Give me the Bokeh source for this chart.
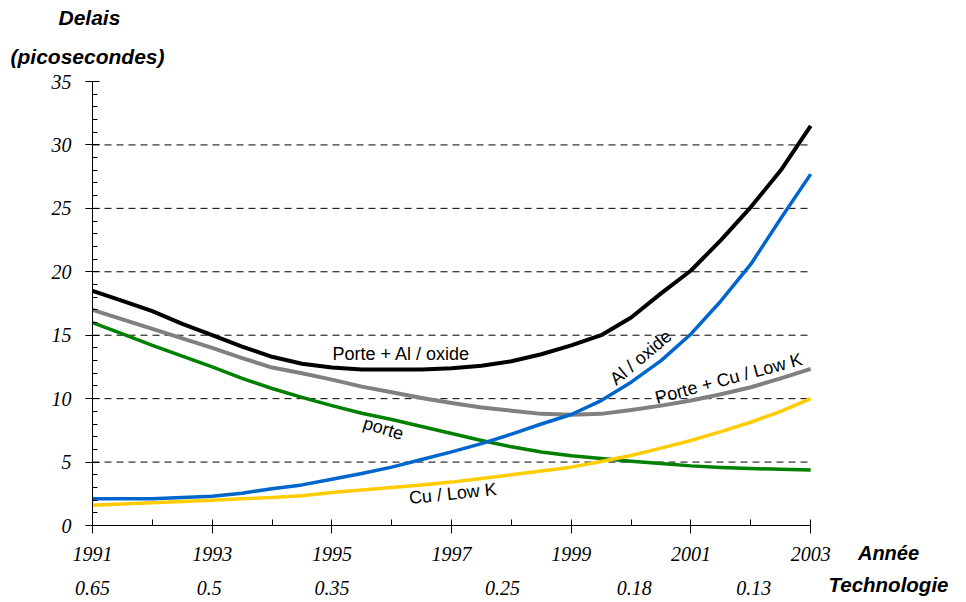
from bokeh.plotting import figure
from bokeh.models import Range1d, FixedTicker, LinearAxis, Label, Title
from bokeh.embed import file_html
from bokeh.resources import INLINE

# ---- data ----
years = [1991, 1991.5, 1992, 1992.5, 1993, 1993.5, 1994, 1994.5, 1995, 1995.5,
         1996, 1996.5, 1997, 1997.5, 1998, 1998.5, 1999, 1999.5, 2000, 2000.5,
         2001, 2001.5, 2002, 2002.5, 2003]

porte_al_oxide = [18.5, 17.7, 16.9, 15.9, 15.0, 14.1, 13.3, 12.75, 12.45, 12.3,
                  12.3, 12.3, 12.4, 12.6, 12.95, 13.5, 14.2, 15.0, 16.4, 18.3,
                  20.1, 22.5, 25.1, 28.0, 31.5]
porte_cu_lowk = [17.0, 16.25, 15.5, 14.75, 14.0, 13.2, 12.45, 12.0, 11.5, 10.95,
                 10.5, 10.05, 9.65, 9.3, 9.05, 8.8, 8.73, 8.8, 9.1, 9.45,
                 9.85, 10.35, 10.9, 11.6, 12.35]
porte = [16.0, 15.1, 14.2, 13.35, 12.5, 11.6, 10.8, 10.1, 9.45, 8.85,
         8.35, 7.8, 7.25, 6.7, 6.2, 5.8, 5.5, 5.28, 5.07, 4.88,
         4.7, 4.58, 4.49, 4.43, 4.38]
al_oxide = [2.1, 2.1, 2.1, 2.2, 2.3, 2.55, 2.9, 3.2, 3.65, 4.1,
            4.6, 5.2, 5.8, 6.45, 7.2, 8.0, 8.75, 9.85, 11.3, 13.0,
            15.1, 17.7, 20.6, 24.2, 27.7]
cu_lowk = [1.6, 1.7, 1.8, 1.9, 2.0, 2.1, 2.2, 2.35, 2.6, 2.8,
           3.0, 3.2, 3.42, 3.7, 4.0, 4.3, 4.6, 5.05, 5.52, 6.1,
           6.7, 7.4, 8.14, 9.0, 10.0]

year_ticks = [1991, 1993, 1995, 1997, 1999, 2001, 2003]
year_minor = [1992, 1994, 1996, 1998, 2000, 2002]
y_ticks = [0, 5, 10, 15, 20, 25, 30, 35]
y_minor = [v for v in range(0, 36) if v % 5 != 0]
grid_vals = [5, 10, 15, 20, 25, 30]
x_first, x_last = 1991, 2003

tech_years = [1991, 1992.95, 1995, 1997.85, 2000.05, 2002.05]
tech_labels = ["0.65", "0.5", "0.35", "0.25", "0.18", "0.13"]

SERIF = "Liberation Serif"
SANS = "Liberation Sans"

# frame 796 x 444 px (59.83 px per year); the part right of 2003 holds the axis titles
p = figure(frame_width=796, frame_height=444, output_backend="svg",
           toolbar_location=None, title=None,
           x_range=Range1d(1991, 2004.30), y_range=Range1d(0, 35),
           min_border_left=92, min_border_right=76, min_border_top=81,
           min_border_bottom=76)
p.outline_line_color = None
p.background_fill_color = "white"
p.border_fill_color = "white"
p.xgrid.visible = False
p.ygrid.visible = False

# dashed horizontal grid lines, limited to the 1991-2003 span
p.segment(x0=[x_first] * len(grid_vals), y0=grid_vals,
          x1=[x_last] * len(grid_vals), y1=grid_vals,
          line_color="black", line_width=1, line_dash="7 5")

# y axis
ya = p.yaxis[0]
ya.ticker = FixedTicker(ticks=y_ticks, minor_ticks=y_minor)
ya.axis_line_color = "black"
ya.major_tick_line_color = "black"
ya.minor_tick_line_color = "black"
ya.major_tick_in = 7
ya.major_tick_out = 7
ya.minor_tick_in = 5
ya.minor_tick_out = 0
ya.major_label_text_font = SERIF
ya.major_label_text_font_style = "italic"
ya.major_label_text_font_size = "20px"
ya.major_label_text_color = "black"
ya.major_label_standoff = 14

def style_bottom_axis(ax, title, title_size, title_standoff):
    ax.major_label_text_font = SERIF
    ax.major_label_text_font_style = "italic"
    ax.major_label_text_font_size = "20px"
    ax.major_label_text_color = "black"
    ax.axis_label = title
    ax.axis_label_align = "end"
    ax.axis_label_standoff = title_standoff
    ax.axis_label_text_font = SANS
    ax.axis_label_text_font_style = "bold italic"
    ax.axis_label_text_font_size = title_size
    ax.axis_label_text_color = "black"

# x axis (years)
xa = p.xaxis[0]
xa.ticker = FixedTicker(ticks=year_ticks, minor_ticks=year_minor)
xa.bounds = (x_first, x_last)
xa.axis_line_color = "black"
xa.major_tick_line_color = "black"
xa.minor_tick_line_color = "black"
xa.major_tick_in = 6
xa.major_tick_out = 8
xa.minor_tick_in = 6
xa.minor_tick_out = 0
xa.major_label_standoff = 13
style_bottom_axis(xa, "Année", "20px", -22)

# technology axis
ta = LinearAxis(ticker=FixedTicker(ticks=tech_years),
                major_label_overrides={y: t for y, t in zip(tech_years, tech_labels)})
ta.axis_line_color = None
ta.major_tick_line_color = None
ta.minor_tick_line_color = None
ta.major_tick_out = 0
ta.major_tick_in = 0
ta.major_label_standoff = 14
style_bottom_axis(ta, "Technologie", "20.5px", -25)
p.add_layout(ta, "below")

# y-axis title (two lines above the plot)
p.add_layout(Title(text="(picosecondes)", align="left", offset=-82, standoff=28,
                   text_font=SANS, text_font_style="bold italic",
                   text_font_size="21px", text_color="black"), "above")
p.add_layout(Title(text="Delais", align="left", offset=-34, standoff=0,
                   text_font=SANS, text_font_style="bold italic",
                   text_font_size="21px", text_color="black"), "above")

# curves
p.line(years, porte_cu_lowk, line_color="#808080", line_width=4, line_join="round")
p.line(years, porte, line_color="#008000", line_width=3.5, line_join="round")
p.line(years, cu_lowk, line_color="#FFCC00", line_width=3.5, line_join="round")
p.line(years, al_oxide, line_color="#0066CC", line_width=3.5, line_join="round")
p.line(years, porte_al_oxide, line_color="black", line_width=4, line_join="round")

# curve labels
def curve_label(x, y, text, angle):
    p.add_layout(Label(x=x, y=y, text=text, angle=angle, angle_units="deg",
                       text_font=SANS, text_font_size="18px", text_color="black",
                       text_align="center", text_baseline="middle"))

curve_label(1996.16, 13.5, "Porte + Al / oxide", 0)
curve_label(2000.16, 13.24, "Al / oxide", 40)
curve_label(2001.63, 11.59, "Porte + Cu / Low K", 15)
curve_label(1995.86, 7.65, "porte", -17)
curve_label(1997.02, 2.52, "Cu / Low K", 6)

open("out.html", "w").write(file_html(p, INLINE))
